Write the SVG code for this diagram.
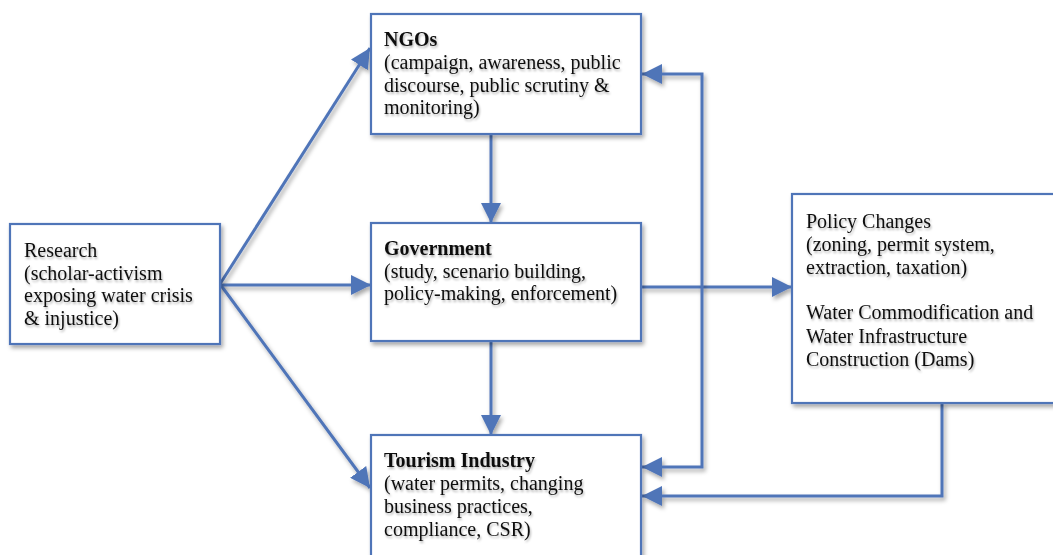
<svg xmlns="http://www.w3.org/2000/svg" width="1053" height="555" viewBox="0 0 1053 555">
<defs>
<style>
.box{fill:#ffffff;stroke:#4F74B8;stroke-width:2.2;filter:url(#sh)}
.con{fill:none;stroke:#4F74B8;stroke-width:3;filter:url(#sh)}
.t{font-family:"Liberation Serif","Times New Roman",serif;font-size:20px;fill:#111111;filter:url(#tsh)}
.b{font-weight:bold}
</style>
<filter id="sh" filterUnits="userSpaceOnUse" x="0" y="0" width="1053" height="555">
<feDropShadow dx="2" dy="3" stdDeviation="2" flood-color="#000000" flood-opacity="0.35"/>
</filter>
<filter id="tsh" filterUnits="userSpaceOnUse" x="0" y="0" width="1053" height="555">
<feDropShadow dx="1" dy="2" stdDeviation="1.2" flood-color="#000000" flood-opacity="0.3"/>
</filter>
<marker id="ah" markerUnits="userSpaceOnUse" markerWidth="20" markerHeight="20" viewBox="0 0 20 20" refX="20" refY="10" orient="auto">
<path d="M0,0 L20,10 L0,20 z" fill="#4F74B8"/>
</marker>
</defs>
<rect width="1053" height="555" fill="#ffffff"/>

<g id="connectors">
<line class="con" x1="220" y1="284" x2="370" y2="48" marker-end="url(#ah)"/>
<line class="con" x1="220" y1="285" x2="371" y2="285" marker-end="url(#ah)"/>
<line class="con" x1="220" y1="284" x2="370" y2="488" marker-end="url(#ah)"/>
<line class="con" x1="491" y1="134" x2="491" y2="223" marker-end="url(#ah)"/>
<line class="con" x1="491" y1="341" x2="491" y2="435" marker-end="url(#ah)"/>
<line class="con" x1="641" y1="287" x2="792" y2="287" marker-end="url(#ah)"/>
<polyline class="con" points="702,287 702,74 642,74" marker-end="url(#ah)"/>
<polyline class="con" points="702,287 702,467 642,467" marker-end="url(#ah)"/>
<polyline class="con" points="942,403 942,496 642,496" marker-end="url(#ah)"/>
</g>

<g id="research">
<rect class="box" x="10" y="224" width="210" height="120"/>
<text class="t" x="24"><tspan x="24" y="257">Research</tspan><tspan x="24" y="280">(scholar-activism</tspan><tspan x="24" y="302">exposing water crisis</tspan><tspan x="24" y="325">&amp; injustice)</tspan></text>
</g>

<g id="ngos">
<rect class="box" x="371" y="14" width="270" height="120"/>
<text class="t" x="384"><tspan class="b" x="384" y="46">NGOs</tspan><tspan x="384" y="69">(campaign, awareness, public</tspan><tspan x="384" y="92">discourse, public scrutiny &amp;</tspan><tspan x="384" y="114">monitoring)</tspan></text>
</g>

<g id="government">
<rect class="box" x="371" y="223" width="270" height="118"/>
<text class="t" x="384"><tspan class="b" x="384" y="255">Government</tspan><tspan x="384" y="278">(study, scenario building,</tspan><tspan x="384" y="300">policy-making, enforcement)</tspan></text>
</g>

<g id="policy">
<rect class="box" x="792" y="194" width="270" height="209"/>
<text class="t" x="806"><tspan x="806" y="228">Policy Changes</tspan><tspan x="806" y="251">(zoning, permit system,</tspan><tspan x="806" y="274">extraction, taxation)</tspan><tspan x="806" y="319">Water Commodification and</tspan><tspan x="806" y="343">Water Infrastructure</tspan><tspan x="806" y="366">Construction (Dams)</tspan></text>
</g>

<g id="tourism">
<rect class="box" x="371" y="435" width="270" height="130"/>
<text class="t" x="384"><tspan class="b" x="384" y="467">Tourism Industry</tspan><tspan x="384" y="490">(water permits, changing</tspan><tspan x="384" y="513">business practices,</tspan><tspan x="384" y="536">compliance, CSR)</tspan></text>
</g>
</svg>
